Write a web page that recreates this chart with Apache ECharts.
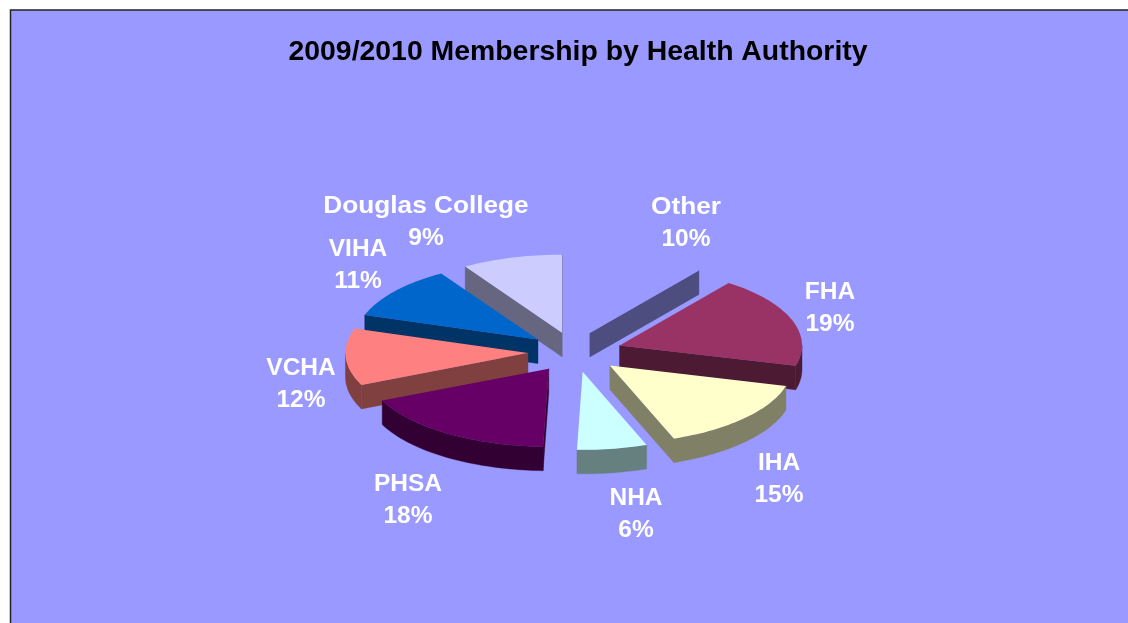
<!DOCTYPE html>
<html>
<head>
<meta charset="utf-8">
<style>
  html, body { margin: 0; padding: 0; background: #fff; }
  #chart { width: 1128px; height: 623px; }
</style>
<script src="https://cdn.jsdelivr.net/npm/echarts@6/dist/echarts.min.js"></script>
</head>
<body>
<div id="chart"></div>
<script>
// the slice shares are printed rounded
var categories = ['Other', 'FHA', 'IHA', 'NHA', 'PHSA', 'VCHA', 'VIHA', 'Douglas College'];
var shares = [10.2, 19, 15.1, 6.2, 17.8, 11.8, 11, 8.9];
var topColors = ['#9999FF', '#993366', '#FFFFCC', '#CCFFFF', '#660066', '#FF8080', '#0066CC', '#CCCCFF'];
var wallColors = ['#4D4D80', '#4D1A33', '#808066', '#668080', '#330033', '#804040', '#003366', '#666680'];
var labelCentres = [[686, 223], [830, 308], [779, 479], [636, 514], [408, 500], [301, 384], [358, 265], [426, 222]];
var nameStretch = [1.07, 1, 1, 1, 1, 1, 1, 1.07];

// projected pie
var cx = 575, cy = 352, rx = 182.5, ry = 78, depth = 24, explode = 0.258;

var total = shares.reduce(function (a, b) { return a + b; }, 0);
var starts = [];
shares.reduce(function (acc, v, i) { starts[i] = acc; return acc + v / total * 360; }, 0);

function project(deg, k) {
  var t = deg * Math.PI / 180;
  return [k * rx * Math.sin(t), -k * ry * Math.cos(t)];
}

// back slices first so the front ones paint over them
var apexY = shares.map(function (v, i) { return project(starts[i] + v / total * 180, explode)[1]; });
var order = shares.map(function (v, i) { return i; }).sort(function (a, b) { return apexY[a] - apexY[b]; });

function poly(points, fill, z) {
  return {
    type: 'polygon',
    z2: z,
    shape: { points: points },
    style: { fill: fill, stroke: fill, lineWidth: 0.4 }
  };
}

function label(text, x, y, stretch) {
  return {
    type: 'text',
    z2: 500,
    x: x,
    y: y,
    scaleX: stretch,
    style: {
      x: 0,
      y: 0,
      text: text,
      fill: '#fff',
      font: 'bold 24.5px "Liberation Sans", Arial, sans-serif',
      align: 'center',
      verticalAlign: 'middle'
    }
  };
}

function renderSlice(params, api) {
  var i = api.value(0);
  var from = starts[i], to = from + api.value(1) / total * 360;
  var off = project((from + to) / 2, explode);
  var ax = cx + off[0], ay = cy + off[1];
  var at = function (deg) {
    var p = project(deg, 1);
    return [ax + p[0], ay + p[1]];
  };
  var rim = [];
  for (var d = from; d < to; d += 1.5) rim.push(at(d));
  rim.push(at(to));
  var down = function (p) { return [p[0], p[1] + depth]; };
  var z = order.indexOf(i) * 10 + 1;
  var apex = [ax, ay];
  var children = [];
  // cut faces only where they look towards the viewer
  if (Math.sin(from * Math.PI / 180) < 0) {
    children.push(poly([apex, at(from), down(at(from)), down(apex)], wallColors[i], z));
  }
  if (Math.sin(to * Math.PI / 180) > 0) {
    children.push(poly([apex, at(to), down(at(to)), down(apex)], wallColors[i], z));
  }
  // outer wall, front half of the ellipse only
  var lo = Math.max(from, 90), hi = Math.min(to, 270);
  if (hi > lo) {
    var front = [];
    for (var e = lo; e < hi; e += 1.5) front.push(at(e));
    front.push(at(hi));
    children.push(poly(front.concat(front.map(down).reverse()), wallColors[i], z));
  }
  var top = poly([apex].concat(rim), topColors[i], z + 1);
  top.style.stroke = null;
  children.push(top);
  children.push(label(categories[i], labelCentres[i][0], labelCentres[i][1] - 16, nameStretch[i]));
  children.push(label(Math.round(api.value(1) / total * 100) + '%', labelCentres[i][0], labelCentres[i][1] + 16, 1));
  return { type: 'group', children: children };
}

var myChart = echarts.init(document.getElementById('chart'));
myChart.setOption({
  animation: false,
  backgroundColor: '#fff',
  title: {
    text: '2009/2010 Membership by Health Authority',
    left: 573,
    top: 33,
    textAlign: 'center',
    textStyle: { color: '#000', fontFamily: '"Liberation Sans", Arial, sans-serif', fontWeight: 'bold', fontSize: 28.4 }
  },
  graphic: [{
    type: 'rect',
    z: -1,
    silent: true,
    shape: { x: 10.5, y: 10, width: 1130, height: 630 },
    style: { fill: '#9999FF', stroke: '#222', lineWidth: 1.5 }
  }],
  series: [{
    type: 'custom',
    coordinateSystem: 'none',
    silent: true,
    renderItem: renderSlice,
    data: shares.map(function (v, i) { return [i, v]; })
  }]
});
</script>
</body>
</html>
